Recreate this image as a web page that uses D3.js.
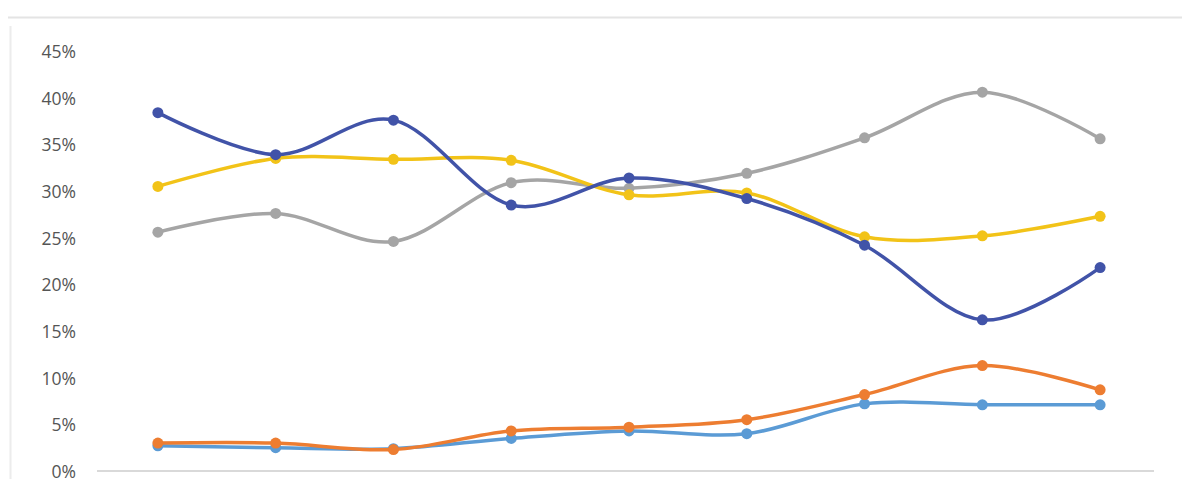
<!DOCTYPE html>
<html lang="en">
<head>
  <meta charset="UTF-8">
  <title>Line Chart</title>
  <script src="https://d3js.org/d3.v7.min.js"></script>
  <style>
    body { margin: 0; background: #fff; font-family: "Open Sans", "Liberation Sans", sans-serif; }
    .tick-label { fill: #555; font-size: 17.5px; }
  </style>
</head>
<body>
  <div id="chart"></div>
  <script>
    const categories = ["1", "2", "3", "4", "5", "6", "7", "8", "9"];
    const yTicks = [0, 5, 10, 15, 20, 25, 30, 35, 40, 45];

    const seriesDarkBlue = [38.5, 34.0, 37.7, 28.6, 31.5, 29.3, 24.3, 16.3, 21.9];
    const seriesYellow = [30.6, 33.6, 33.5, 33.4, 29.7, 29.9, 25.2, 25.3, 27.4];
    const seriesGray = [25.7, 27.7, 24.7, 31.0, 30.4, 32.0, 35.8, 40.7, 35.7];
    const seriesOrange = [3.1, 3.1, 2.4, 4.4, 4.8, 5.6, 8.3, 11.4, 8.8];
    const seriesLightBlue = [2.8, 2.6, 2.5, 3.6, 4.4, 4.1, 7.3, 7.2, 7.2];

    const width = 1182;
    const height = 479;

    // drawing order: bottom first
    const series = [
      { values: seriesLightBlue, color: "#5b9bd5" },
      { values: seriesOrange, color: "#ed7d31" },
      { values: seriesGray, color: "#a5a5a5" },
      { values: seriesYellow, color: "#f2c318" },
      { values: seriesDarkBlue, color: "#4153a8" }
    ];

    const svg = d3.select("#chart")
      .append("svg")
      .attr("width", width)
      .attr("height", height);

    // frame edges
    svg.append("line")
      .attr("x1", 8).attr("x2", width).attr("y1", 17.5).attr("y2", 17.5)
      .attr("stroke", "#e4e4e4").attr("stroke-width", 2);
    svg.append("line")
      .attr("x1", 10.5).attr("x2", 10.5).attr("y1", 26).attr("y2", height)
      .attr("stroke", "#ececec").attr("stroke-width", 2);

    const x = d3.scalePoint()
      .domain(categories)
      .range([99, 1159])
      .padding(0.5);

    const y = d3.scaleLinear()
      .domain([0, 45])
      .range([472, 52]);

    // y labels
    svg.selectAll(".tick-label")
      .data(yTicks)
      .enter()
      .append("text")
      .attr("class", "tick-label")
      .attr("x", 76)
      .attr("y", d => y(d))
      .attr("dy", "0.35em")
      .attr("text-anchor", "end")
      .text(d => d + "%");

    // baseline
    svg.append("line")
      .attr("x1", 97).attr("x2", 1154)
      .attr("y1", y(0) - 1).attr("y2", y(0) - 1)
      .attr("stroke", "#d9d9d9").attr("stroke-width", 2);

    const line = d3.line()
      .x((d, i) => x(categories[i]))
      .y(d => y(d))
      .curve(d3.curveCardinal.tension(0));

    series.forEach(s => {
      const g = svg.append("g");
      g.append("path")
        .datum(s.values)
        .attr("fill", "none")
        .attr("stroke", s.color)
        .attr("stroke-width", 3.5)
        .attr("stroke-linecap", "round")
        .attr("d", line);
      g.selectAll("circle")
        .data(s.values)
        .enter()
        .append("circle")
        .attr("cx", (d, i) => x(categories[i]))
        .attr("cy", d => y(d))
        .attr("r", 5.5)
        .attr("fill", s.color);
    });
  </script>
</body>
</html>
